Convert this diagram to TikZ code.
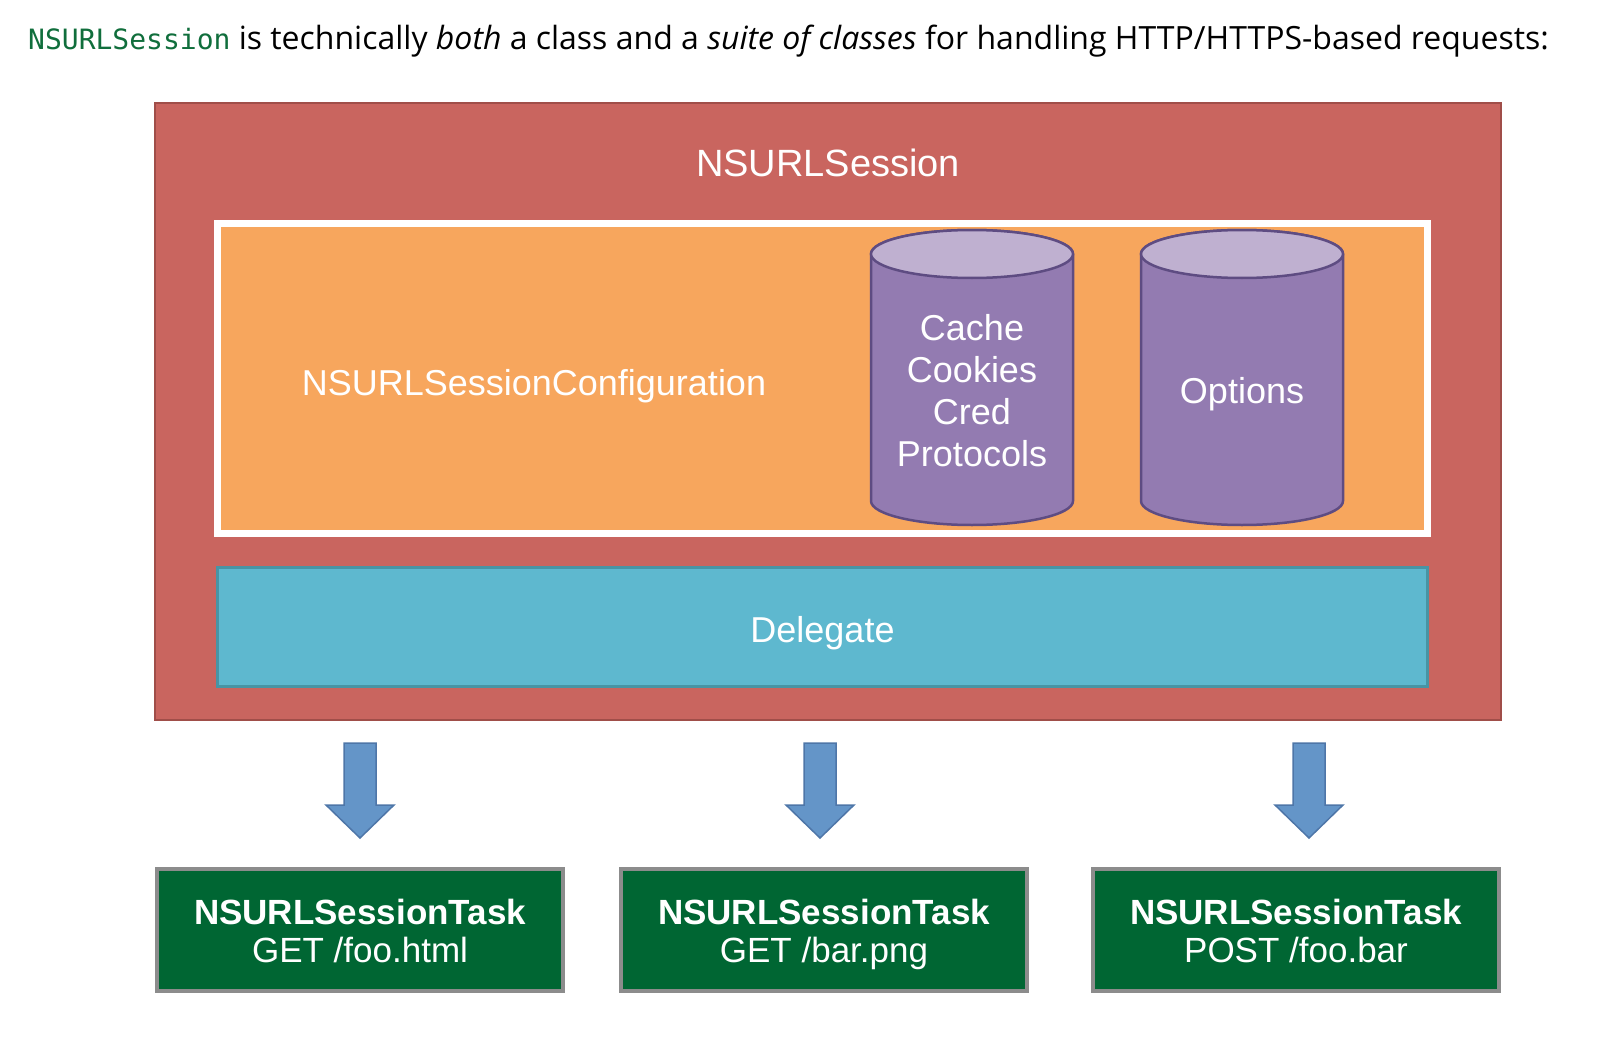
\documentclass[tikz,border=0pt]{standalone}
\usepackage{fontspec}
\setmainfont{Open Sans}
\newfontfamily\diagfont{Liberation Sans}
\newfontfamily\codefont{DejaVu Sans Mono}
\usetikzlibrary{positioning}
\definecolor{sessionred}{RGB}{201,101,95}
\definecolor{sessionedge}{RGB}{160,78,73}
\definecolor{configorange}{RGB}{247,166,93}
\definecolor{cylpurple}{RGB}{147,123,177}
\definecolor{cyltop}{RGB}{191,176,208}
\definecolor{cyledge}{RGB}{94,76,130}
\definecolor{delegateblue}{RGB}{94,184,207}
\definecolor{delegateedge}{RGB}{72,148,164}
\definecolor{arrowblue}{RGB}{100,149,200}
\definecolor{arrowedge}{RGB}{78,118,168}
\definecolor{taskgreen}{RGB}{0,102,51}
\definecolor{taskedge}{RGB}{140,140,140}
\definecolor{codegreen}{RGB}{16,110,60}

\newcommand{\flatline}[1]{\raisebox{0pt}[\height][0pt]{#1}}

\tikzset{
  boxtext/.style={text=white, align=center, inner sep=0pt, font=\diagfont\fontsize{36}{42}\selectfont},
  sessionbox/.style={draw=sessionedge, fill=sessionred, line width=2pt, inner sep=0pt},
  configbox/.style={draw=white, fill=configorange, line width=7pt, inner sep=0pt},
  delegatebox/.style={draw=delegateedge, fill=delegateblue, line width=3pt, inner sep=0pt, boxtext,
    text height=30pt, text depth=0pt},
  taskbox/.style={draw=taskedge, fill=taskgreen, line width=4pt, minimum width=406, minimum height=122,
    text=white, align=center, inner sep=0pt, font=\diagfont\fontsize{35}{38}\selectfont},
  store/.pic={
    \draw[cyledge, fill=cylpurple, line width=2.5pt] (-101,24) -- (-101,271)
      arc[start angle=180, end angle=0, x radius=101, y radius=24] -- (101,24)
      arc[start angle=0, end angle=-180, x radius=101, y radius=24] -- cycle;
    \draw[cyledge, fill=cyltop, line width=2.5pt] (0,24) ellipse[x radius=101, y radius=24];
  },
  downarrow/.pic={
    \draw[arrowedge, fill=arrowblue, line width=1.5pt] (-16,0) -- (16,0) -- (16,62) -- (34,62)
      -- (0,95) -- (-34,62) -- (-16,62) -- cycle;
  }
}

\begin{document}
\begin{tikzpicture}[x=1pt, y=-1pt]
\useasboundingbox (0,0) rectangle (1618,1046);

% Intro line
\node[anchor=base west, inner sep=0pt, font=\fontsize{32}{38}\selectfont] (intro) at (28,50)
  {\textcolor{codegreen}{\codefont\fontsize{28}{34}\selectfont NSURLSession} is technically \emph{both} a class and a \emph{suite of classes} for handling HTTP/HTTPS-based requests:};

% Session with configuration and delegate
\node[sessionbox, minimum width=1346, minimum height=617] (session) at (828,411.5) {};
\node[boxtext, font=\diagfont\fontsize{38}{44}\selectfont] (sessiontitle) at (828,163) {NSURLSession};
\node[configbox, minimum width=1210, minimum height=310] (config) at (822.5,378.5) {};
\node[boxtext] (configtitle) at (534,386) {NSURLSessionConfiguration};
\pic at (972,230) {store};
\pic at (1242,230) {store};
\node[boxtext] (storage) at (972,391) {Cache\\Cookies\\Cred\\Protocols};
\node[boxtext] (options) at (1242,394) {Options};
\node[delegatebox, minimum width=1210, minimum height=119] (delegate) at (822.5,627) {Delegate};

% Tasks
\node[taskbox] (taskget) at (360,930) {\textbf{NSURLSessionTask}\strut\\\flatline{GET /foo.html}};
\node[taskbox] (taskpng) at (824,930) {\textbf{NSURLSessionTask}\strut\\\flatline{GET /bar.png}};
\node[taskbox] (taskpost) at (1296,930) {\textbf{NSURLSessionTask}\strut\\\flatline{POST /foo.bar}};
\pic at (360,743) {downarrow};
\pic at (820,743) {downarrow};
\pic at (1309,743) {downarrow};
\end{tikzpicture}
\end{document}
